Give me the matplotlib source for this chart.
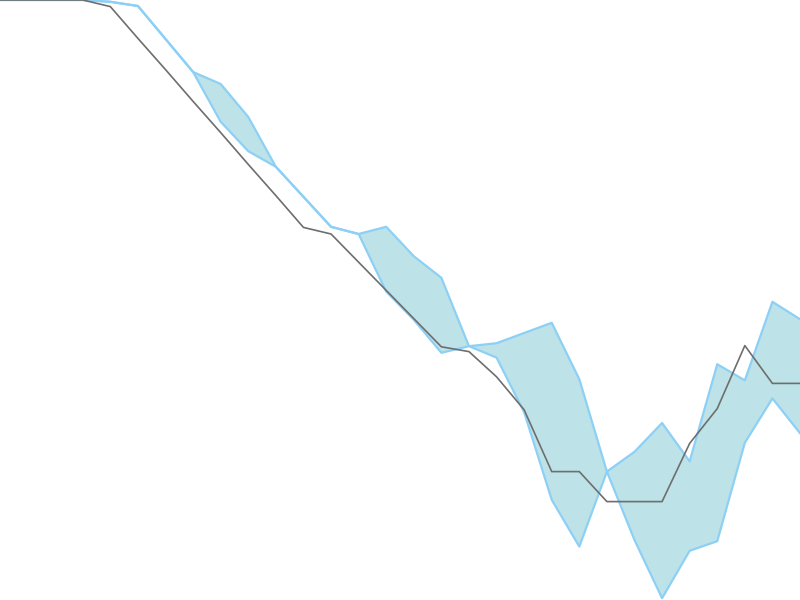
import matplotlib
matplotlib.use("Agg")
import matplotlib.pyplot as plt
import numpy as np

steps = list(range(30))

actual = [100.0, 100.0, 100.0, 100.0, 98.9, 93.6, 88.4, 83.1, 77.9, 72.6,
          67.4, 62.1, 61.0, 56.3, 51.6, 46.9, 42.2, 41.4, 37.2, 31.7,
          21.4, 21.4, 16.4, 16.4, 16.4, 26.1, 31.9, 42.4, 36.1, 36.1]

upper = [100.0, 100.0, 100.0, 100.0, 99.7, 99.0, 93.5, 88.0, 86.0, 80.5,
         72.2, 67.2, 62.2, 61.0, 62.2, 57.3, 53.7, 42.3, 42.8, 44.5,
         46.2, 36.8, 21.4, 24.7, 29.5, 23.1, 39.3, 36.6, 49.7, 46.8]

lower = [100.0, 100.0, 100.0, 100.0, 99.7, 99.0, 93.5, 88.0, 79.7, 74.8,
         72.2, 67.2, 62.2, 61.0, 51.4, 46.7, 41.2, 42.3, 40.4, 31.3,
         16.7, 8.9, 21.4, 10.0, 0.3, 8.2, 9.8, 26.2, 33.6, 27.8]

fig = plt.figure(figsize=(8, 6), dpi=100)
ax = fig.add_axes([0, 0, 1, 1])
ax.fill_between(steps, lower, upper, color="#BDE3E8", linewidth=0)
ax.plot(steps, upper, color="#8DD0F5", linewidth=1.6)
ax.plot(steps, lower, color="#8DD0F5", linewidth=1.6)
ax.plot(steps, actual, color="#6E6E6E", linewidth=1.2)
ax.set_xlim(0, 29)
ax.set_ylim(0, 100)
ax.axis("off")
fig.savefig("out.png", dpi=100)
